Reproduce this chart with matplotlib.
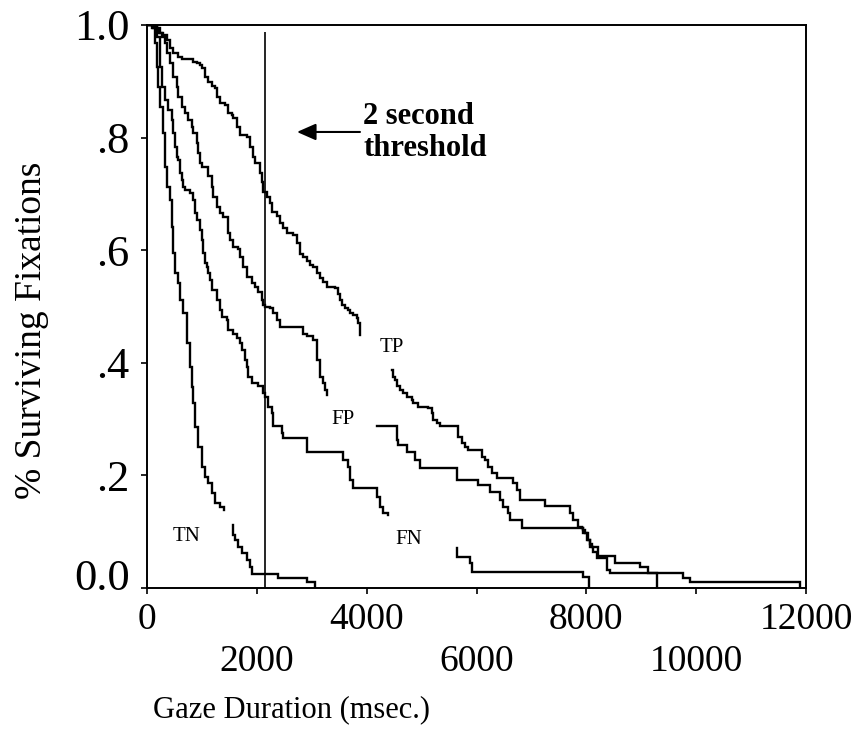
"""Survival curves of gaze duration for TP / FP / FN / TN fixations."""

import matplotlib
matplotlib.use("Agg")
import matplotlib.pyplot as plt
import matplotlib.transforms as mtransforms

plt.rcParams["font.family"] = ["Liberation Serif", "DejaVu Serif"]

# --- data (ms, surviving proportion) ---------------------------------------
# each curve is broken in places in the original, so it comes in pieces
tp_x1 = [0, 177, 237, 297, 359, 419, 479, 570, 632, 843, 905, 965, 996, 1056,
         1116, 1178, 1238, 1269, 1329, 1420, 1480, 1542, 1571, 1633, 1693,
         1815, 1876, 1936, 1967, 2058, 2089, 2118, 2180, 2240, 2271, 2362,
         2422, 2482, 2544, 2664, 2726, 2786, 2846, 2908, 2968, 3028, 3090,
         3150, 3210, 3272, 3423, 3483, 3514, 3545, 3605, 3666, 3696, 3757,
         3818, 3848, 3878]
tp_y1 = [1.0, .994, .985, .982, .973, .959, .950, .944, .939, .935, .932, .929,
         .923, .908, .899, .891, .888, .873, .861, .858, .843, .840, .834,
         .819, .804, .801, .784, .766, .754, .737, .722, .704, .695, .683,
         .668, .660, .648, .639, .630, .627, .612, .594, .588, .580, .574,
         .571, .559, .550, .544, .535, .532, .523, .512, .503, .497, .494,
         .488, .485, .479, .470, .449]
tp_x2 = [4456, 4485, 4516, 4547, 4607, 4667, 4729, 4820, 4849, 4940, 5122,
         5184, 5213, 5275, 5335, 5669, 5730, 5790, 5851, 6095, 6155, 6215,
         6277, 6368, 6670, 6732, 6792, 7247, 7702, 7763, 7853, 7915, 7945,
         7976, 8036, 8067, 8098, 8218, 8522, 8977, 9128, 9287]
tp_y2 = [.387, .375, .369, .358, .352, .346, .340, .334, .328, .322, .319,
         .310, .298, .293, .287, .269, .257, .251, .245, .233, .227, .215,
         .204, .195, .186, .174, .156, .146, .133, .121, .109, .106, .103,
         .097, .085, .079, .073, .056, .044, .037, .027, 0.0]

fp_x1 = [0, 146, 206, 268, 328, 359, 419, 479, 541, 570, 632, 692, 752, 814,
         843, 905, 934, 965, 996, 1116, 1178, 1207, 1269, 1329, 1389, 1480,
         1511, 1571, 1662, 1693, 1754, 1815, 1906, 1967, 2027, 2089, 2118,
         2149, 2240, 2300, 2362, 2422, 2846, 2908, 3028, 3090, 3150, 3210,
         3241, 3272]
fp_y1 = [1.0, .994, .985, .979, .968, .950, .932, .908, .890, .873, .855,
         .843, .831, .819, .808, .790, .772, .754, .748, .731, .713, .695,
         .677, .666, .659, .630, .618, .606, .603, .588, .571, .553, .541,
         .535, .526, .512, .503, .500, .497, .488, .476, .464, .452, .447,
         .440, .405, .375, .364, .352, .343]
fp_x2 = [4183, 4547, 4576, 4729, 4880, 4971, 5639, 6033, 6246, 6428, 6488,
         6579, 6610, 6823, 7945, 8006, 8067, 8127, 8188, 8371, 8431, 9766,
         9888, 11890]
fp_y2 = [.287, .263, .254, .242, .227, .214, .192, .183, .171, .156, .144,
         .133, .121, .107, .097, .085, .073, .064, .053, .032, .027, .018,
         .011, 0.0]

fn_x1 = [0, 115, 177, 237, 268, 328, 388, 450, 479, 510, 541, 570, 601, 632,
         661, 692, 783, 843, 874, 905, 965, 996, 1025, 1056, 1087, 1116, 1147,
         1178, 1269, 1329, 1360, 1451, 1480, 1571, 1633, 1693, 1724, 1784,
         1815, 1845, 1906, 2027, 2118, 2149, 2209, 2271, 2300, 2453, 2482,
         2908, 3574, 3666, 3696, 3757, 4183, 4243, 4303, 4388]
fn_y1 = [1.0, .994, .979, .926, .890, .867, .849, .831, .808, .784, .766,
         .760, .737, .725, .713, .707, .701, .689, .666, .654, .636, .619,
         .595, .577, .571, .559, .547, .529, .512, .494, .482, .476, .458,
         .452, .444, .435, .423, .405, .393, .375, .364, .358, .346, .340,
         .322, .310, .287, .275, .267, .242, .227, .215, .192, .177, .162,
         .144, .133, .130]
fn_x2 = [5639, 5645, 5882, 5918, 7939, 8048]
fn_y2 = [.071, .055, .044, .028, .020, 0.0]

tn_x1 = [0, 86, 146, 182, 200, 237, 291, 328, 364, 419, 455, 473, 510, 564,
         601, 656, 728, 783, 819, 838, 874, 929, 1002, 1056, 1111, 1184,
         1238, 1329, 1402]
tn_y1 = [1.0, .994, .968, .925, .890, .854, .808, .748, .712, .689, .641,
         .595, .560, .542, .512, .488, .435, .393, .357, .329, .286, .251,
         .215, .197, .186, .169, .151, .144, .139]
tn_x2 = [1566, 1570, 1602, 1657, 1730, 1821, 1876, 1912, 2385, 2908, 3059]
tn_y2 = [.112, .095, .085, .073, .062, .050, .037, .025, .018, .011, 0.0]

threshold_ms = 2150
curve_labels = ["TP", "FP", "FN", "TN"]
label_x = [4461, 3569, 4771, 728]
label_y = [.428, .300, .087, .092]

x_ticks = [0, 2000, 4000, 6000, 8000, 10000, 12000]
y_ticks = [0.0, 0.2, 0.4, 0.6, 0.8, 1.0]
y_tick_labels = ["0.0", ".2", ".4", ".6", ".8", "1.0"]

# --- figure ----------------------------------------------------------------
W, H = 855, 745
fig = plt.figure(figsize=(W / 100, H / 100), dpi=100)
ax = fig.add_axes([147 / W, 1 - 588 / H, (806 - 147) / W, (588 - 25) / H])

segments = [(tp_x1, tp_y1), (tp_x2, tp_y2), (fp_x1, fp_y1), (fp_x2, fp_y2),
            (fn_x1, fn_y1), (fn_x2, fn_y2), (tn_x1, tn_y1), (tn_x2, tn_y2)]
for xs, ys in segments:
    ax.step(xs, ys, where="post", color="black", lw=1.7, solid_joinstyle="miter")

ax.vlines(threshold_ms, 0, 0.988, color="black", lw=1.2)

ax.annotate("", xy=(2731, .810), xytext=(3878, .810),
            arrowprops=dict(arrowstyle="-|>,head_length=0.5,head_width=0.22",
                            mutation_scale=23, color="black", lw=1.5,
                            shrinkA=0, shrinkB=0))
ax.text(3939, .809, "2 second\nthreshold", fontsize=22, fontweight="bold",
        ha="left", va="center", linespacing=1.1)

for name, lx, ly in zip(curve_labels, label_x, label_y):
    ax.text(lx, ly, name, fontsize=15, ha="center", va="center")

ax.set_xlim(0, 12000)
ax.set_ylim(0, 1.0)
ax.set_xticks(x_ticks)
ax.set_xticklabels([str(v) for v in x_ticks])
ax.set_yticks(y_ticks)
ax.set_yticklabels(y_tick_labels)

for s in ax.spines.values():
    s.set_linewidth(1.4)
ax.tick_params(axis="both", direction="out", length=4.5, width=1.2,
               top=False, right=False)
ax.tick_params(axis="x", labelsize=27, pad=6)
ax.tick_params(axis="y", labelsize=32, pad=8)

# staggered x tick labels
for i, tk in enumerate(ax.xaxis.get_major_ticks()):
    if i % 2 == 1:
        tk.set_pad(36)

# the 0.0 label sits a little above its tick in the original
zero_lab = ax.get_yticklabels()[0]
zero_lab.set_transform(zero_lab.get_transform()
                       + mtransforms.ScaledTranslation(0, 0.14, fig.dpi_scale_trans))

fig.text(153 / W, 1 - 710 / H, "Gaze Duration (msec.)", fontsize=22,
         ha="left", va="center")
fig.text(32 / W, 1 - 330 / H, "% Surviving Fixations", fontsize=27,
         rotation=90, ha="center", va="center")

fig.savefig("out.png", dpi=100)
